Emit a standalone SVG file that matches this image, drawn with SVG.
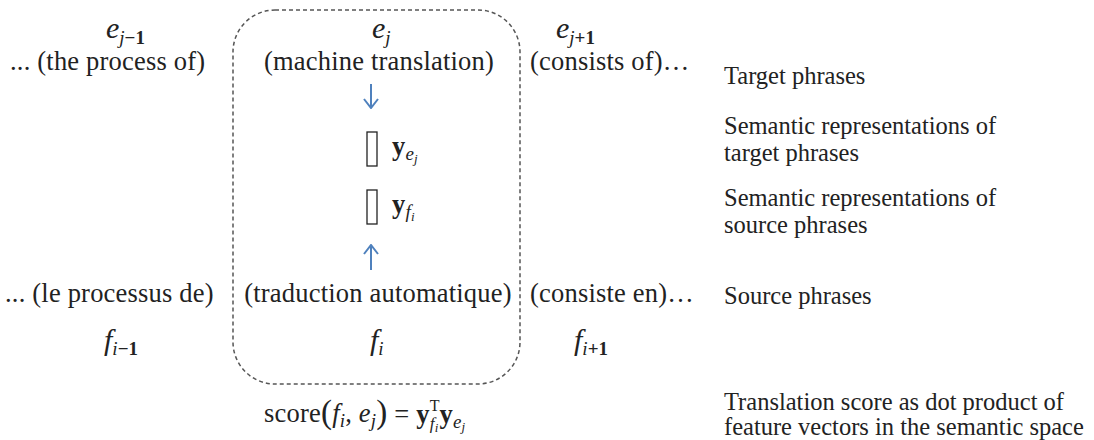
<svg xmlns="http://www.w3.org/2000/svg" width="1094" height="440" viewBox="0 0 1094 440">
<style>
.t{font-family:"Liberation Serif","Times New Roman",serif;font-size:26.5px;letter-spacing:0.2px;fill:#222}
.r{font-family:"Liberation Serif","Times New Roman",serif;font-size:24.5px;fill:#222}
.m{font-family:"Liberation Serif","Times New Roman",serif;font-size:30px;fill:#222}
.i{font-style:italic}
.b{font-weight:bold}
.s{font-size:19px}
.ss{font-size:13px}
.arr{stroke:#4f81bd;stroke-width:2;fill:none}
.box{fill:none;stroke:#555;stroke-width:1.5;stroke-dasharray:4 3}
.vec{fill:#fff;stroke:#222;stroke-width:1.3}
</style>
<defs>
<marker id="ah" viewBox="0 0 16 16" refX="15" refY="8" markerWidth="16" markerHeight="16" markerUnits="userSpaceOnUse" orient="auto">
<path d="M6 1 L15 8 L6 15" fill="none" stroke="#4f81bd" stroke-width="2"/>
</marker>
</defs>
<rect width="1094" height="440" fill="#fff"/>

<g id="frame">
<rect class="box" x="233" y="10" width="287" height="374" rx="42" ry="42"/>
</g>

<g id="connectors">
<line class="arr" x1="371" y1="84" x2="371" y2="108" marker-end="url(#ah)"/>
<line class="arr" x1="371" y1="270" x2="371" y2="245" marker-end="url(#ah)"/>
</g>

<g id="target-prev">
<text class="m" x="106" y="38"><tspan class="i">e</tspan><tspan class="s i" dy="6">j</tspan><tspan class="s b" dy="0">−1</tspan></text>
<text class="t" x="10" y="70">... (the process of)</text>
</g>

<g id="target-cur">
<text class="m" x="372" y="38"><tspan class="i">e</tspan><tspan class="s i" dy="6">j</tspan></text>
<text class="t" x="379" y="70" text-anchor="middle">(machine translation)</text>
</g>

<g id="target-next">
<text class="m" x="556" y="38"><tspan class="i">e</tspan><tspan class="s i" dy="6">j</tspan><tspan class="s b" dy="0">+1</tspan></text>
<text class="t" x="530" y="70">(consists of)…</text>
</g>

<g id="vec-e">
<rect class="vec" x="367" y="132" width="10" height="34"/>
<text class="t" x="392" y="155"><tspan class="b">y</tspan><tspan class="s i" dy="5">e</tspan><tspan class="ss i" dy="3">j</tspan></text>
</g>

<g id="vec-f">
<rect class="vec" x="367" y="190" width="10" height="34"/>
<text class="t" x="392" y="213"><tspan class="b">y</tspan><tspan class="s i" dy="5">f</tspan><tspan class="ss i" dy="3">i</tspan></text>
</g>

<g id="source-prev">
<text class="t" x="5" y="302">... (le processus de)</text>
<text class="m" x="104" y="350"><tspan class="i">f</tspan><tspan class="s i" dy="5">i</tspan><tspan class="s b" dy="0">−1</tspan></text>
</g>

<g id="source-cur">
<text class="t" x="378" y="302" text-anchor="middle">(traduction automatique)</text>
<text class="m" x="370" y="350"><tspan class="i">f</tspan><tspan class="s i" dy="5">i</tspan></text>
</g>

<g id="source-next">
<text class="t" x="530" y="302">(consiste en)…</text>
<text class="m" x="574" y="350"><tspan class="i">f</tspan><tspan class="s i" dy="5">i</tspan><tspan class="s b" dy="0">+1</tspan></text>
</g>

<g id="formula">
<text class="t" x="264" y="422">score<tspan font-size="33" dy="1">(</tspan><tspan class="i" dy="-1">f</tspan><tspan class="s i" dy="5">i</tspan><tspan dy="-5">, </tspan><tspan class="i">e</tspan><tspan class="s i" dy="5">j</tspan><tspan font-size="33" dy="-4">)</tspan><tspan dy="0"> = </tspan><tspan class="b">y</tspan><tspan font-size="16" dy="-12">T</tspan><tspan class="i" font-size="17" dx="-10" dy="18">f</tspan><tspan class="ss i" dy="3">i</tspan><tspan class="b" dx="1" dy="-9">y</tspan><tspan class="s i" dy="5">e</tspan><tspan class="ss i" dy="3">j</tspan></text>
</g>

<g id="legend">
<text class="r" x="724" y="84">Target phrases</text>
<text class="r" x="724" y="134">Semantic representations of</text>
<text class="r" x="724" y="161">target phrases</text>
<text class="r" x="724" y="206">Semantic representations of</text>
<text class="r" x="724" y="233">source phrases</text>
<text class="r" x="724" y="304">Source phrases</text>
<text class="r" x="724" y="410">Translation score as dot product of</text>
<text class="r" x="724" y="435">feature vectors in the semantic space</text>
</g>
</svg>
